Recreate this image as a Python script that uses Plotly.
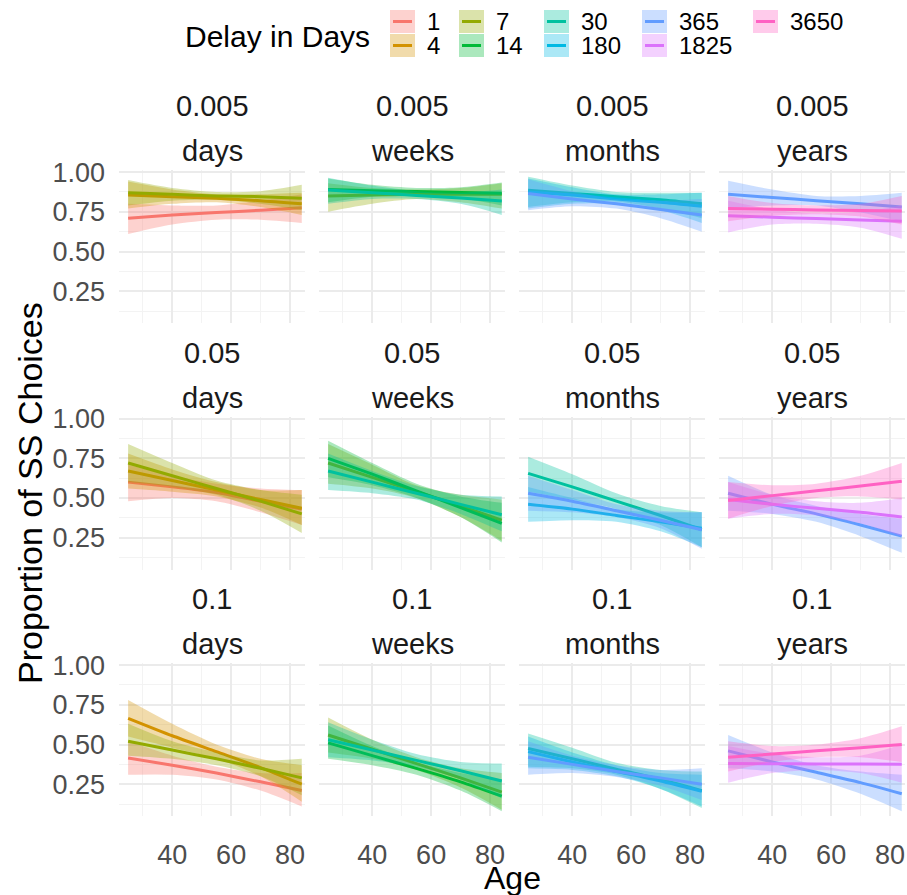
import plotly.graph_objects as go
from plotly.subplots import make_subplots

# ---------------- data ----------------
AGES = [25, 40, 55, 70, 84]
DELAYS = [1, 4, 7, 14, 30, 180, 365, 1825, 3650]
COLORS = ["#F8766D", "#D39200", "#93AA00", "#00BA38", "#00C19F",
          "#00B9E3", "#619CFF", "#DB72FB", "#FF61C3"]
RATES = ["0.005", "0.05", "0.1"]
UNITS = ["days", "weeks", "months", "years"]

# each entry: delay -> (fitted line, lower CI, upper CI) at AGES
fit_005_days = {
    1: ([0.71, 0.73, 0.745, 0.76, 0.775], [0.61, 0.67, 0.70, 0.70, 0.68], [0.80, 0.79, 0.79, 0.82, 0.86]),
    4: ([0.855, 0.845, 0.835, 0.82, 0.80], [0.77, 0.80, 0.81, 0.78, 0.73], [0.94, 0.89, 0.86, 0.86, 0.87]),
    7: ([0.87, 0.86, 0.85, 0.845, 0.835], [0.79, 0.82, 0.825, 0.80, 0.76], [0.95, 0.90, 0.875, 0.88, 0.92]),
}
fit_005_weeks = {
    7: ([0.85, 0.855, 0.86, 0.86, 0.86], [0.75, 0.80, 0.83, 0.81, 0.77], [0.93, 0.90, 0.89, 0.90, 0.93]),
    14: ([0.89, 0.883, 0.877, 0.872, 0.866], [0.81, 0.845, 0.855, 0.835, 0.79], [0.96, 0.92, 0.90, 0.905, 0.935]),
    30: ([0.887, 0.87, 0.853, 0.836, 0.818], [0.80, 0.83, 0.83, 0.80, 0.73], [0.965, 0.915, 0.88, 0.87, 0.89]),
}
fit_005_months = {
    30: ([0.885, 0.865, 0.845, 0.825, 0.80], [0.78, 0.81, 0.815, 0.77, 0.71], [0.97, 0.915, 0.875, 0.87, 0.87]),
    180: ([0.875, 0.855, 0.83, 0.81, 0.785], [0.77, 0.80, 0.80, 0.76, 0.68], [0.96, 0.905, 0.86, 0.86, 0.87]),
    365: ([0.865, 0.83, 0.80, 0.765, 0.73], [0.76, 0.785, 0.77, 0.71, 0.625], [0.955, 0.88, 0.83, 0.82, 0.83]),
}
fit_005_years = {
    365: ([0.86, 0.84, 0.82, 0.80, 0.78], [0.77, 0.79, 0.79, 0.745, 0.69], [0.945, 0.89, 0.85, 0.85, 0.87]),
    1825: ([0.725, 0.716, 0.707, 0.698, 0.69], [0.62, 0.67, 0.675, 0.65, 0.58], [0.82, 0.765, 0.74, 0.75, 0.79]),
    3650: ([0.77, 0.766, 0.762, 0.758, 0.755], [0.69, 0.725, 0.735, 0.72, 0.67], [0.85, 0.805, 0.79, 0.80, 0.85]),
}
fit_05_days = {
    1: ([0.60, 0.57, 0.535, 0.48, 0.43], [0.48, 0.50, 0.48, 0.41, 0.33], [0.71, 0.64, 0.59, 0.56, 0.55]),
    4: ([0.67, 0.61, 0.55, 0.49, 0.435], [0.56, 0.54, 0.51, 0.44, 0.33], [0.78, 0.68, 0.60, 0.55, 0.55]),
    7: ([0.72, 0.64, 0.56, 0.48, 0.40], [0.60, 0.57, 0.52, 0.42, 0.28], [0.84, 0.72, 0.61, 0.55, 0.52]),
}
fit_05_weeks = {
    7: ([0.72, 0.63, 0.54, 0.45, 0.36], [0.59, 0.56, 0.50, 0.38, 0.23], [0.84, 0.71, 0.58, 0.52, 0.49]),
    14: ([0.75, 0.65, 0.545, 0.44, 0.34], [0.63, 0.58, 0.50, 0.38, 0.22], [0.86, 0.72, 0.59, 0.51, 0.47]),
    30: ([0.67, 0.60, 0.53, 0.46, 0.395], [0.55, 0.53, 0.49, 0.40, 0.29], [0.78, 0.67, 0.575, 0.52, 0.51]),
}
fit_05_months = {
    30: ([0.655, 0.57, 0.48, 0.39, 0.30], [0.54, 0.49, 0.43, 0.33, 0.19], [0.76, 0.65, 0.53, 0.45, 0.41]),
    180: ([0.46, 0.43, 0.39, 0.35, 0.31], [0.35, 0.36, 0.35, 0.29, 0.19], [0.57, 0.50, 0.43, 0.41, 0.41]),
    365: ([0.53, 0.48, 0.42, 0.36, 0.30], [0.42, 0.41, 0.38, 0.31, 0.18], [0.64, 0.55, 0.46, 0.42, 0.41]),
}
fit_05_years = {
    365: ([0.53, 0.46, 0.40, 0.33, 0.26], [0.42, 0.40, 0.35, 0.26, 0.155], [0.64, 0.52, 0.45, 0.40, 0.37]),
    1825: ([0.49, 0.46, 0.435, 0.41, 0.38], [0.37, 0.40, 0.39, 0.34, 0.26], [0.60, 0.52, 0.48, 0.47, 0.50]),
    3650: ([0.485, 0.515, 0.545, 0.575, 0.605], [0.37, 0.45, 0.50, 0.51, 0.49], [0.60, 0.58, 0.59, 0.64, 0.72]),
}
fit_1_days = {
    1: ([0.415, 0.37, 0.32, 0.265, 0.21], [0.31, 0.31, 0.28, 0.21, 0.11], [0.52, 0.43, 0.36, 0.32, 0.32]),
    4: ([0.665, 0.555, 0.455, 0.355, 0.25], [0.55, 0.48, 0.41, 0.30, 0.14], [0.78, 0.63, 0.50, 0.41, 0.37]),
    7: ([0.52, 0.465, 0.41, 0.35, 0.29], [0.43, 0.41, 0.37, 0.30, 0.18], [0.63, 0.52, 0.45, 0.40, 0.41]),
}
fit_1_weeks = {
    7: ([0.56, 0.47, 0.38, 0.29, 0.20], [0.45, 0.41, 0.34, 0.23, 0.09], [0.67, 0.53, 0.42, 0.35, 0.32]),
    14: ([0.51, 0.43, 0.35, 0.265, 0.175], [0.41, 0.37, 0.31, 0.21, 0.08], [0.62, 0.49, 0.39, 0.32, 0.28]),
    30: ([0.53, 0.465, 0.40, 0.335, 0.27], [0.42, 0.40, 0.36, 0.28, 0.16], [0.64, 0.53, 0.44, 0.39, 0.38]),
}
fit_1_months = {
    30: ([0.475, 0.41, 0.345, 0.28, 0.21], [0.36, 0.35, 0.31, 0.22, 0.10], [0.57, 0.48, 0.385, 0.34, 0.33]),
    180: ([0.455, 0.39, 0.33, 0.27, 0.205], [0.35, 0.34, 0.30, 0.22, 0.11], [0.55, 0.45, 0.37, 0.32, 0.31]),
    365: ([0.42, 0.375, 0.33, 0.29, 0.25], [0.31, 0.32, 0.295, 0.24, 0.15], [0.52, 0.43, 0.37, 0.34, 0.35]),
}
fit_1_years = {
    365: ([0.46, 0.39, 0.325, 0.26, 0.19], [0.35, 0.33, 0.28, 0.19, 0.08], [0.56, 0.45, 0.37, 0.33, 0.31]),
    1825: ([0.38, 0.379, 0.378, 0.377, 0.375], [0.26, 0.32, 0.34, 0.32, 0.26], [0.49, 0.44, 0.42, 0.43, 0.50]),
    3650: ([0.42, 0.44, 0.46, 0.48, 0.50], [0.33, 0.39, 0.42, 0.42, 0.39], [0.52, 0.49, 0.50, 0.54, 0.615]),
}

PANELS = [
    [fit_005_days, fit_005_weeks, fit_005_months, fit_005_years],
    [fit_05_days, fit_05_weeks, fit_05_months, fit_05_years],
    [fit_1_days, fit_1_weeks, fit_1_months, fit_1_years],
]

X_TICKS = [40, 60, 80]
X_MINOR = [30, 50, 70]
Y_TICKS = [0.25, 0.50, 0.75, 1.00]
Y_TICK_TEXT = ["0.25", "0.50", "0.75", "1.00"]
Y_MINOR = [0.125, 0.375, 0.625, 0.875]

# ---------------- figure ----------------
W, H = 907, 895
ML, MT = 119, 170
MR = W - 905
MB = H - 816
PW, PH = W - ML - MR, H - MT - MB
FONT = "Liberation Sans, Arial, Helvetica, sans-serif"
ALPHA = 0.33


def rgba(hex_color, a):
    h = hex_color.lstrip("#")
    r, g, b = int(h[0:2], 16), int(h[2:4], 16), int(h[4:6], 16)
    return f"rgba({r},{g},{b},{a})"


def px_x(px):
    return (px - ML) / PW


def px_y(py):
    return (H - MB - py) / PH


color_of = dict(zip(DELAYS, COLORS))

fig = make_subplots(rows=3, cols=4, shared_xaxes=True, shared_yaxes=True,
                    horizontal_spacing=14 / PW, vertical_spacing=93.5 / PH)

for r, row in enumerate(PANELS, start=1):
    for c, panel in enumerate(row, start=1):
        for delay, (line, lo, hi) in panel.items():
            col = color_of[delay]
            fig.add_trace(go.Scatter(x=AGES, y=lo, mode="lines", line=dict(width=0, shape="spline", smoothing=0.8),
                                     showlegend=False, hoverinfo="skip"), row=r, col=c)
            fig.add_trace(go.Scatter(x=AGES, y=hi, mode="lines", line=dict(width=0, shape="spline", smoothing=0.8),
                                     fill="tonexty", fillcolor=rgba(col, ALPHA),
                                     showlegend=False, hoverinfo="skip"), row=r, col=c)
            fig.add_trace(go.Scatter(x=AGES, y=line, mode="lines",
                                     line=dict(color=col, width=3, shape="spline", smoothing=0.6),
                                     showlegend=False, name=str(delay)), row=r, col=c)

fig.update_xaxes(range=[21.9, 85.1], tickvals=X_TICKS, ticks="", showline=False, zeroline=False,
                 showgrid=True, gridcolor="#EBEBEB", gridwidth=1.6,
                 minor=dict(tickvals=X_MINOR, showgrid=True, gridcolor="#F3F3F3", gridwidth=0.9),
                 tickfont=dict(family=FONT, size=27, color="#4D4D4D"), ticklabelstandoff=20,
                 ticklabeloverflow="allow")
fig.update_yaxes(range=[0.05, 1.013], tickvals=Y_TICKS, ticktext=Y_TICK_TEXT, ticks="", showline=False,
                 zeroline=False, showgrid=True, gridcolor="#EBEBEB", gridwidth=1.6,
                 minor=dict(tickvals=Y_MINOR, showgrid=True, gridcolor="#F3F3F3", gridwidth=0.9),
                 tickfont=dict(family=FONT, size=27, color="#4D4D4D"), ticklabelstandoff=13)

annotations = []
# strip labels
for r in range(3):
    for c in range(4):
        idx = r * 4 + c + 1
        sfx = "" if idx == 1 else str(idx)
        annotations.append(dict(text=RATES[r], xref=f"x{sfx} domain", yref=f"y{sfx} domain", x=0.5, y=1,
                                xanchor="center", yanchor="middle", yshift=64, showarrow=False,
                                font=dict(family=FONT, size=29, color="#1A1A1A")))
        annotations.append(dict(text=UNITS[c], xref=f"x{sfx} domain", yref=f"y{sfx} domain", x=0.5, y=1,
                                xanchor="center", yanchor="middle", yshift=19, showarrow=False,
                                font=dict(family=FONT, size=29, color="#1A1A1A")))

# axis titles
annotations.append(dict(text="Age", xref="paper", yref="paper", x=0.5, y=px_y(878), xanchor="center",
                        yanchor="middle", showarrow=False, font=dict(family=FONT, size=32, color="#000000")))
annotations.append(dict(text="Proportion of SS Choices", xref="paper", yref="paper", x=px_x(30), y=px_y(493),
                        xanchor="center", yanchor="middle", textangle=-90, showarrow=False,
                        font=dict(family=FONT, size=34, color="#000000")))

# legend (ggplot-style, 2 rows filled by column)
shapes = []
annotations.append(dict(text="Delay in Days", xref="paper", yref="paper", x=px_x(372), y=px_y(36),
                        xanchor="right", yanchor="middle", showarrow=False,
                        font=dict(family=FONT, size=30, color="#000000")))
LEG_COL_X = [390, 459, 544, 642, 753]
LEG_ROW_Y = [10, 34]
KEY_W, KEY_H = 25, 23
for i, (delay, col) in enumerate(zip(DELAYS, COLORS)):
    cx = LEG_COL_X[i // 2]
    ry = LEG_ROW_Y[i % 2]
    shapes.append(dict(type="rect", xref="paper", yref="paper", x0=px_x(cx), x1=px_x(cx + KEY_W),
                       y0=px_y(ry + KEY_H), y1=px_y(ry), fillcolor=rgba(col, ALPHA), line=dict(width=0)))
    shapes.append(dict(type="line", xref="paper", yref="paper", x0=px_x(cx + 3), x1=px_x(cx + KEY_W - 3),
                       y0=px_y(ry + KEY_H / 2), y1=px_y(ry + KEY_H / 2), line=dict(color=col, width=3)))
    annotations.append(dict(text=str(delay), xref="paper", yref="paper", x=px_x(cx + KEY_W + 10),
                            y=px_y(ry + KEY_H / 2), xanchor="left", yanchor="middle", showarrow=False,
                            font=dict(family=FONT, size=24, color="#000000")))

fig.update_layout(width=W, height=H, margin=dict(l=ML, r=MR, t=MT, b=MB, pad=0),
                  plot_bgcolor="white", paper_bgcolor="white", showlegend=False,
                  annotations=annotations, shapes=shapes, font=dict(family=FONT))

# the page's default 8px body margin would push the fixed-size figure off-screen
fig.write_html("out.html", config={"displayModeBar": False},
               post_script="document.body.style.margin='0';")
